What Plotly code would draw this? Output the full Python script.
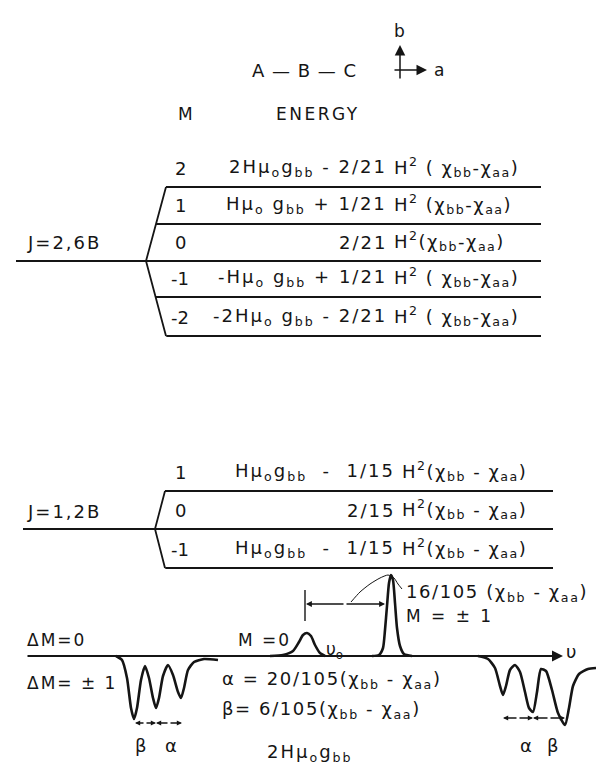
import plotly.graph_objects as go

W, H = 608, 777
FONT = "DejaVu Sans"
INK = "#151515"

# ---------------- data ----------------
molecule = "A — B — C"
axis_b, axis_a = "b", "a"
col_M, col_E = "M", "ENERGY"

upper_J = "J=2,6B"
upper_M = ["2", "1", "0", "-1", "-2"]
upper_level_y = [179, 216, 253, 289, 328]
upper_E_left = [
    "2Hμ<sub>o</sub>g<sub>bb</sub> - 2/21",
    "Hμ<sub>o</sub> g<sub>bb</sub> + 1/21",
    "2/21",
    "-Hμ<sub>o</sub> g<sub>bb</sub> + 1/21",
    "-2Hμ<sub>o</sub> g<sub>bb</sub> - 2/21",
]
upper_E_right = [
    "H<sup>2</sup> ( χ<sub>bb</sub>-χ<sub>aa</sub>)",
    "H<sup>2</sup> (χ<sub>bb</sub>-χ<sub>aa</sub>)",
    "H<sup>2</sup>(χ<sub>bb</sub>-χ<sub>aa</sub>)",
    "H<sup>2</sup> ( χ<sub>bb</sub>-χ<sub>aa</sub>)",
    "H<sup>2</sup> ( χ<sub>bb</sub>-χ<sub>aa</sub>)",
]

lower_J = "J=1,2B"
lower_M = ["1", "0", "-1"]
lower_level_y = [483, 521, 560]
lower_E_left = [
    "Hμ<sub>o</sub>g<sub>bb</sub>  -  1/15",
    "2/15",
    "Hμ<sub>o</sub>g<sub>bb</sub>  -  1/15",
]
lower_E_right = [
    "H<sup>2</sup>(χ<sub>bb</sub> - χ<sub>aa</sub>)",
    "H<sup>2</sup>(χ<sub>bb</sub> - χ<sub>aa</sub>)",
    "H<sup>2</sup>(χ<sub>bb</sub> - χ<sub>aa</sub>)",
]

# spectrum traces (frequency position, signal)
dip_left_x = [108, 114, 119, 123, 126, 129, 133, 137, 141, 145, 148, 151, 155, 160, 165, 170, 173, 176, 180, 186, 196, 210]
dip_left_y = [648, 652, 670, 700, 711, 700, 672, 658, 670, 690, 700, 690, 668, 657, 667, 684, 690, 680, 662, 654, 651, 652]
peak0_x = [262, 275, 285, 291, 295, 299, 303, 307, 312, 317]
peak0_y = [648, 647, 643, 634, 627, 625, 628, 637, 645, 648]
peak1_x = [364, 371, 375, 377, 379, 381, 383, 385, 387, 389, 392, 396, 404]
peak1_y = [648, 647, 640, 622, 598, 575, 567, 572, 595, 620, 638, 646, 648]
dip_right_x = [470, 480, 487, 492, 495, 498, 502, 507, 512, 517, 521, 525, 529, 533, 538, 544, 550, 557, 561, 565, 571, 580, 588]
dip_right_y = [648, 651, 660, 678, 687, 678, 662, 657, 664, 684, 700, 704, 684, 661, 663, 682, 705, 717, 700, 678, 666, 661, 660]
leader_x = [343, 352, 362, 372, 380, 386, 390, 394]
leader_y = [594, 584, 576, 570, 567, 570, 576, 581]

split_label = "16/105 (χ<sub>bb</sub> - χ<sub>aa</sub>)"
alpha_def = "α = 20/105(χ<sub>bb</sub> - χ<sub>aa</sub>)"
beta_def = "β= 6/105(χ<sub>bb</sub> - χ<sub>aa</sub>)"
zeeman_label = "2Hμ<sub>o</sub>g<sub>bb</sub>"

# ---------------- figure ----------------
fig = go.Figure()


def line(xs, ys, width=1.8):
    fig.add_trace(go.Scatter(x=xs, y=ys, mode="lines", hoverinfo="skip",
                             line=dict(color=INK, width=width), showlegend=False))


def curve(xs, ys, width=2.6):
    fig.add_trace(go.Scatter(x=xs, y=ys, mode="lines", hoverinfo="skip",
                             line=dict(color=INK, width=width, shape="spline", smoothing=0.6),
                             showlegend=False))


def txt(x, y, s, size=18, xanchor="center", yanchor="middle", ls=2.0):
    s = '<span style="letter-spacing:%.1fpx">%s</span>' % (ls, s)
    fig.add_annotation(x=x, y=y, xref="x", yref="y", text=s, showarrow=False,
                       xanchor=xanchor, yanchor=yanchor,
                       font=dict(size=size, family=FONT, color=INK))


def arrow(x0, y0, x1, y1, head=2, size=1.0, width=1.5, side="end"):
    fig.add_annotation(x=x1, y=y1, ax=x0, ay=y0, xref="x", yref="y", axref="x", ayref="y",
                       text="", showarrow=True, arrowhead=head, arrowsize=size,
                       arrowwidth=width, arrowcolor=INK, arrowside=side, standoff=0, startstandoff=0)


# header
txt(296, 62, molecule, size=18, ls=1.0)
txt(391, 23, axis_b, size=17, ls=0)
txt(431, 62, axis_a, size=17, ls=0)
arrow(392, 72, 392, 37, head=2, size=1.4, width=1.5)
arrow(385, 62, 419, 62, head=2, size=1.4, width=1.5)
txt(178, 106, col_M, size=17, ls=1)
txt(310, 106, col_E, size=17, ls=2.5)


def level_block(J, Ms, ys, left, right, x_jstart, x_apex, x_top, x_end, x_split_l, x_split_r, jy_text):
    y_top, y_bot = ys[0], ys[-1]
    y_mid = ys[len(ys) // 2]
    # J line continues as the central level
    line([x_jstart, x_end], [y_mid, y_mid])
    # fan
    line([x_top, x_apex, x_top], [y_top, y_mid, y_bot])
    for y in ys:
        if y == y_mid:
            continue
        frac = abs(y - y_mid) / abs(y_top - y_mid)
        xs = x_apex + frac * (x_top - x_apex)
        line([xs, x_end], [y, y])
    txt(17, jy_text, J, size=18, xanchor="left", ls=2.0)
    for m, y, l, r in zip(Ms, ys, left, right):
        ty = y - 19
        txt(172, ty, m, size=18, ls=0)
        txt(x_split_l, ty, l, size=18, xanchor="right", ls=2.0)
        txt(x_split_r, ty - 1, r, size=18, xanchor="left", ls=1.5)


level_block(upper_J, upper_M, upper_level_y, upper_E_left, upper_E_right,
            8, 138, 158, 533, 381, 384, 234)
level_block(lower_J, lower_M, lower_level_y, lower_E_left, lower_E_right,
            15, 147, 157, 545, 389, 392, 503)

# spectrum
txt(17, 632, "ΔM=0", size=17, xanchor="left", ls=2)
txt(17, 675, "ΔM= ± 1", size=17, xanchor="left", ls=2)
arrow(18, 648, 555, 648, head=2, size=1.1, width=2)
txt(563, 643, "υ", size=18, ls=0)
curve(dip_left_x, dip_left_y)
curve(peak0_x, peak0_y)
curve(peak1_x, peak1_y)
curve(dip_right_x, dip_right_y)
curve(leader_x, leader_y, width=1.0)
txt(256, 632, "M =0", size=17, ls=2)
txt(316, 642, "υ<sub>o</sub>", size=17, xanchor="left", ls=0)
txt(396, 585, split_label, size=18, xanchor="left", ls=1.6)
txt(396, 608, "M = ± 1", size=17, xanchor="left", ls=2.5)

# split bracket
line([297, 297], [582, 613], width=1.4)
arrow(337, 596, 298, 596, head=2, size=0.9, width=1.3)
arrow(337, 596, 377, 596, head=2, size=0.9, width=1.3)

# alpha / beta markers
arrow(137, 715, 127, 715, head=2, size=0.8, width=1.3)
arrow(137, 715, 148, 715, head=2, size=0.8, width=1.3)
arrow(161, 715, 148, 715, head=2, size=0.8, width=1.3)
arrow(161, 715, 174, 715, head=2, size=0.8, width=1.3)
txt(133, 737, "β", size=18, ls=0)
txt(163, 737, "α", size=18, ls=0)

arrow(510, 710, 495, 710, head=2, size=0.8, width=1.3)
arrow(510, 710, 525, 710, head=2, size=0.8, width=1.3)
arrow(541, 710, 525, 710, head=2, size=0.8, width=1.3)
arrow(541, 710, 557, 710, head=2, size=0.8, width=1.3)
txt(518, 737, "α", size=18, ls=0)
txt(545, 737, "β", size=18, ls=0)

txt(212, 672, alpha_def, size=18, xanchor="left", ls=1.6)
txt(212, 702, beta_def, size=18, xanchor="left", ls=1.6)
txt(302, 745, zeeman_label, size=18, ls=2)
arrow(336, 774, 154, 774, head=2, size=1.0, width=1.5)
arrow(336, 774, 518, 774, head=2, size=1.0, width=1.5)

fig.update_layout(
    width=W, height=H, margin=dict(l=0, r=0, t=0, b=0),
    paper_bgcolor="white", plot_bgcolor="white",
    xaxis=dict(range=[0, W], visible=False, fixedrange=True),
    yaxis=dict(range=[H, 0], visible=False, fixedrange=True),
    showlegend=False,
)

fig.write_html("out.html", config={"displayModeBar": False})
